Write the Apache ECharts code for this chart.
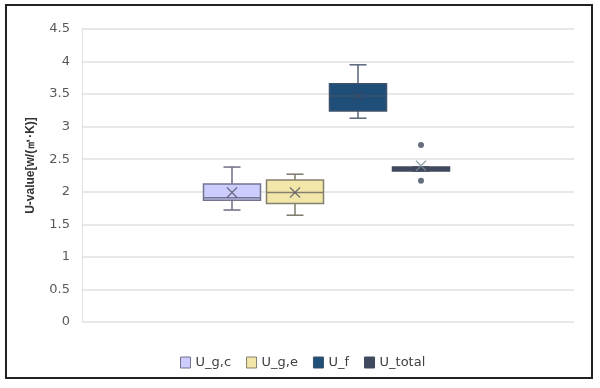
<!DOCTYPE html>
<html><head><meta charset="utf-8">
<script src="https://cdn.jsdelivr.net/npm/echarts@6/dist/echarts.min.js"></script>
<style>html,body{margin:0;padding:0;background:#fff}#c{width:600px;height:388px}</style>
</head><body><div id="c"></div>
<script>
// Data
const seriesNames = ['U_g,c', 'U_g,e', 'U_f', 'U_total'];
// [min, Q1, median, Q3, max]
const U_gc = [1.72, 1.87, 1.91, 2.12, 2.38];
const U_ge = [1.64, 1.82, 1.99, 2.18, 2.27];
const U_f = [3.13, 3.24, 3.47, 3.66, 3.95];
const U_total = [2.32, 2.32, 2.36, 2.38, 2.38];
const means = [1.99, 1.99, 3.47, 2.40];
const totalOutliers = [2.72, 2.17];
const yTicks = { min: 0, max: 4.5, interval: 0.5 };

const boxes = [U_gc, U_ge, U_f, U_total];
const fills = ['#ccccff', '#f2e6a8', '#1f4e79', '#404a5e'];
const borders = ['#74748e', '#85806e', '#3d526b', '#404a5e'];
const whiskerColors = ['#6c6c84', '#7c7868', '#55657a', '#404a5e'];

const chart = echarts.init(document.getElementById('c'));
const cats = ['0', '1', '2', '3'];

function makeRender(i) {
  return function (params, api) {
    const x = api.value(0);
    const v = [1, 2, 3, 4, 5].map(d => api.value(d));
    const band = api.size([1, 0])[0];
    const cx = api.coord([x, v[2]])[0];
    const Y = val => api.coord([x, val])[1];
    const hw = band * 0.905 / 2, cw = band * 0.135;
    const ws = { stroke: whiskerColors[i], lineWidth: 1.5 };
    const bs = { stroke: borders[i], lineWidth: 1.5 };
    return {
      type: 'group', children: [
        { type: 'line', shape: { x1: cx, y1: Y(v[4]), x2: cx, y2: Y(v[3]) }, style: ws },
        { type: 'line', shape: { x1: cx, y1: Y(v[1]), x2: cx, y2: Y(v[0]) }, style: ws },
        { type: 'line', shape: { x1: cx - cw, y1: Y(v[4]), x2: cx + cw, y2: Y(v[4]) }, style: ws },
        { type: 'line', shape: { x1: cx - cw, y1: Y(v[0]), x2: cx + cw, y2: Y(v[0]) }, style: ws },
        { type: 'rect', shape: { x: cx - hw, y: Y(v[3]), width: 2 * hw, height: Y(v[1]) - Y(v[3]) },
          style: { fill: fills[i], stroke: borders[i], lineWidth: 1.5 } },
        { type: 'line', shape: { x1: cx - hw, y1: Y(v[2]), x2: cx + hw, y2: Y(v[2]) }, style: bs }
      ]
    };
  };
}

const series = [];
boxes.forEach((b, i) => {
  series.push({
    name: seriesNames[i], type: 'custom', xAxisIndex: 1, yAxisIndex: 1,
    encode: { x: 0, y: [1, 2, 3, 4, 5] },
    data: [[i].concat(b)],
    renderItem: makeRender(i),
    itemStyle: { color: fills[i], borderColor: borders[i] },
    silent: true
  });
});
series.push({
  type: 'scatter', xAxisIndex: 1, yAxisIndex: 1, z: 5,
  symbol: 'path://M0,0L10,10M10,0L0,10', symbolSize: 10,
  data: means.map((m, i) => ({ value: [i, m], itemStyle: { borderColor: i === 3 ? '#7a9196' : (i === 2 ? '#3a4660' : '#55556a') } })),
  itemStyle: { color: 'none', borderWidth: 1.3 }, silent: true
});
series.push({
  type: 'scatter', xAxisIndex: 1, yAxisIndex: 1, z: 5, symbol: 'circle', symbolSize: 6,
  data: totalOutliers.map(v => [3, v]),
  itemStyle: { color: '#404a5e' }, silent: true
});

chart.setOption({
  animation: false,
  textStyle: { fontFamily: 'Liberation Sans, Arial, sans-serif' },
  grid: [
    { left: 82, right: 26, top: 29, height: 293 },
    { left: 200.5, width: 252, top: 29, height: 293 }
  ],
  xAxis: [
    { gridIndex: 0, type: 'category', data: [''], show: false },
    { gridIndex: 1, type: 'category', data: cats, show: false }
  ],
  yAxis: [
    { gridIndex: 0, type: 'value', min: yTicks.min, max: yTicks.max, interval: yTicks.interval,
      name: 'U-value[w/(㎡·K)]', nameLocation: 'middle', nameGap: 45,
      nameTextStyle: { fontWeight: 'bold', fontSize: 12, color: '#333', padding: [0, 0, 0, 20] },
      axisLine: { show: true, lineStyle: { color: '#e0e0e0' } }, axisTick: { show: false },
      axisLabel: { fontSize: 13, color: '#595959', margin: 12, fontFamily: 'DejaVu Sans' },
      splitLine: { lineStyle: { color: '#e0e0e0', width: 1.5 } } },
    { gridIndex: 1, type: 'value', min: yTicks.min, max: yTicks.max, interval: yTicks.interval, show: false }
  ],
  legend: {
    data: seriesNames.map((n, i) => ({ name: n, itemStyle: { color: fills[i], borderColor: borders[i], borderWidth: 1 } })),
    top: 351, left: 175, icon: 'rect', itemWidth: 10, itemHeight: 11, itemGap: 15,
    textStyle: { fontSize: 13, color: '#404040', fontFamily: 'DejaVu Sans' }
  },
  graphic: [{ type: 'rect', shape: { x: 6, y: 5, width: 586, height: 373 }, style: { fill: 'none', stroke: '#222', lineWidth: 2 }, silent: true }],
  series: series
});
</script></body></html>
